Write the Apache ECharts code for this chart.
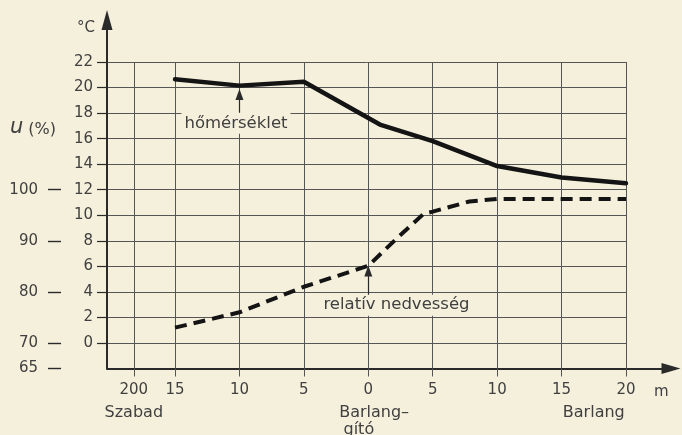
<!DOCTYPE html>
<html><head><meta charset="utf-8">
<script src="https://cdn.jsdelivr.net/npm/echarts@6/dist/echarts.min.js"></script>
<style>html,body{margin:0;padding:0;background:#f5f0dc;}#c{width:682px;height:435px;}</style>
</head><body><div id="c"></div>
<script>
// ---- data ----
const xTickPos = [-18.2, -15, -10, -5, 0, 5, 10, 15, 20];
const xTickLabels = ['200', '15', '10', '5', '0', '5', '10', '15', '20'];
const zonePos = [-18.2, 0.45, 17.5];
const zoneLabels = ['Szabad', 'Barlang–\ngító      ', 'Barlang'];
const tempTicks = [0, 2, 4, 6, 8, 10, 12, 14, 16, 18, 20, 22];
const humTicks = [65, 70, 80, 90, 100];
const tempX = [-15, -10, -5, 0.9, 5, 10, 15, 20];
const tempC = [20.65, 20.15, 20.45, 17.1, 15.8, 13.85, 12.95, 12.5];
const humX = [-15, -10, -5, 0, 2.1, 4.3, 5, 7.85, 10, 15, 20];
const humPct = [73.0, 76.0, 81.0, 85.1, 90.2, 95.3, 95.7, 97.7, 98.2, 98.2, 98.2];
const tempNote = { text: 'hőmérséklet', at: [-10.27, 17.2], arrowX: -10, from: 17.85, to: 19.45 };
const humNote = { text: 'relatív nedvesség', at: [2.19, 77.4], arrowX: 0, from: 79.4, to: 84.1 };

// ---- chart ----
const FONT = 'DejaVu Sans';
const INK = '#2a2a2a';
const TXT = '#404040';
const GRIDC = '#555555';
const PAPER = '#f5f0dc';
const X_MIN = -20.28, X_MAX = 20;

const noteLabel = (n) => ({
  coord: n.at, symbol: 'rect', symbolSize: [1, 1],
  itemStyle: { color: 'rgba(0,0,0,0)' },
  label: {
    show: true, position: 'inside', formatter: n.text,
    fontFamily: FONT, fontSize: 16.5, color: TXT,
    backgroundColor: PAPER, padding: [2, 3]
  }
});

const option = {
  backgroundColor: PAPER,
  animation: false,
  title: {
    text: '{u|u} {p|(%)}', left: 5, top: 112,
    textStyle: { fontWeight: 'normal', rich: {
      u: { fontFamily: FONT, fontSize: 21, fontStyle: 'italic', fontWeight: 'normal', color: TXT },
      p: { fontFamily: FONT, fontSize: 16, fontWeight: 'normal', color: TXT, padding: [4, 0, 0, 0] }
    } }
  },
  grid: [
    { left: 107, right: 56, top: 62, bottom: 66.5, containLabel: false, outerBoundsMode: 'none' },
    { left: 107, right: 11, top: 20, bottom: 66.5, containLabel: false, outerBoundsMode: 'none' }
  ],
  xAxis: [
    {
      type: 'value', gridIndex: 0, min: X_MIN, max: X_MAX,
      axisLine: { show: false, onZero: false },
      axisTick: { show: true, customValues: xTickPos, length: 8, lineStyle: { color: GRIDC, width: 1 } },
      axisLabel: {
        customValues: xTickPos, margin: 14,
        formatter: (v) => { const i = xTickPos.findIndex(p => Math.abs(p - v) < 1e-6); return i >= 0 ? xTickLabels[i] : ''; },
        fontFamily: FONT, fontSize: 15, color: TXT
      },
      splitLine: { show: true, lineStyle: { color: GRIDC, width: 1 } },
      name: 'm', nameLocation: 'end', nameGap: 28,
      nameTextStyle: { fontFamily: FONT, fontSize: 15, color: TXT, verticalAlign: 'top', padding: [16, 0, 0, 0] }
    },
    {
      type: 'value', gridIndex: 0, min: X_MIN, max: X_MAX, position: 'bottom',
      axisLine: { show: false, onZero: false }, axisTick: { show: false }, splitLine: { show: false },
      axisLabel: {
        customValues: zonePos, margin: 36,
        formatter: (v) => { const i = zonePos.findIndex(p => Math.abs(p - v) < 1e-6); return i >= 0 ? zoneLabels[i] : ''; },
        fontFamily: FONT, fontSize: 16, color: TXT, lineHeight: 17
      }
    },
    {
      type: 'value', gridIndex: 1, min: 0, max: 1,
      axisLine: { show: true, onZero: false, symbol: ['none', 'triangle'], symbolSize: [11, 19], lineStyle: { color: INK, width: 2 } },
      axisTick: { show: false }, axisLabel: { show: false }, splitLine: { show: false }
    }
  ],
  yAxis: [
    {
      type: 'value', gridIndex: 0, min: -2, max: 22,
      axisLine: { show: false, onZero: false },
      axisTick: { show: true, customValues: tempTicks, length: 10, lineStyle: { color: INK, width: 1.2 } },
      axisLabel: { customValues: tempTicks, margin: 14, fontFamily: FONT, fontSize: 15, color: TXT },
      splitLine: { show: true, lineStyle: { color: GRIDC, width: 1 } }
    },
    {
      type: 'value', gridIndex: 0, min: 65, max: 125, position: 'left', offset: 46,
      axisLine: { show: false, onZero: false },
      axisTick: { show: true, customValues: humTicks, length: 13, lineStyle: { color: INK, width: 1.4 } },
      axisLabel: { customValues: humTicks, margin: 23, fontFamily: FONT, fontSize: 15, color: TXT },
      splitLine: { show: false }
    },
    {
      type: 'value', gridIndex: 1, min: 0, max: 1,
      axisLine: { show: true, onZero: false, symbol: ['none', 'triangle'], symbolSize: [11, 20], lineStyle: { color: INK, width: 2 } },
      axisTick: { show: false }, axisLabel: { show: false }, splitLine: { show: false },
      name: '°C', nameLocation: 'end', nameGap: -8,
      nameTextStyle: { fontFamily: FONT, fontSize: 15, color: TXT, align: 'right', verticalAlign: 'middle', padding: [0, 12, 0, 0] }
    }
  ],
  series: [
    {
      name: 'hőmérséklet', type: 'line', xAxisIndex: 0, yAxisIndex: 0,
      data: tempX.map((x, i) => [x, tempC[i]]),
      showSymbol: false, symbol: 'none',
      lineStyle: { color: '#141414', width: 4.5, join: 'round', cap: 'round' },
      z: 5,
      markLine: {
        silent: true, symbol: ['none', 'triangle'], symbolSize: [8, 11],
        label: { show: false },
        lineStyle: { color: INK, width: 1.2, type: 'solid' },
        data: [[{ coord: [tempNote.arrowX, tempNote.from] }, { coord: [tempNote.arrowX, tempNote.to] }]]
      },
      markPoint: { silent: true, data: [noteLabel(tempNote)] }
    },
    {
      name: 'relatív nedvesség', type: 'line', xAxisIndex: 0, yAxisIndex: 1,
      data: humX.map((x, i) => [x, humPct[i]]),
      showSymbol: false, symbol: 'none',
      lineStyle: { color: '#141414', width: 4, type: [12, 7], join: 'round' },
      z: 5,
      markLine: {
        silent: true, symbol: ['none', 'triangle'], symbolSize: [8, 11],
        label: { show: false },
        lineStyle: { color: INK, width: 1.2, type: 'solid' },
        data: [[{ coord: [humNote.arrowX, humNote.from] }, { coord: [humNote.arrowX, humNote.to] }]]
      },
      markPoint: { silent: true, data: [noteLabel(humNote)] }
    }
  ]
};

const chart = echarts.init(document.getElementById('c'), null, { renderer: 'canvas' });
chart.setOption(option);
</script>
</body></html>
